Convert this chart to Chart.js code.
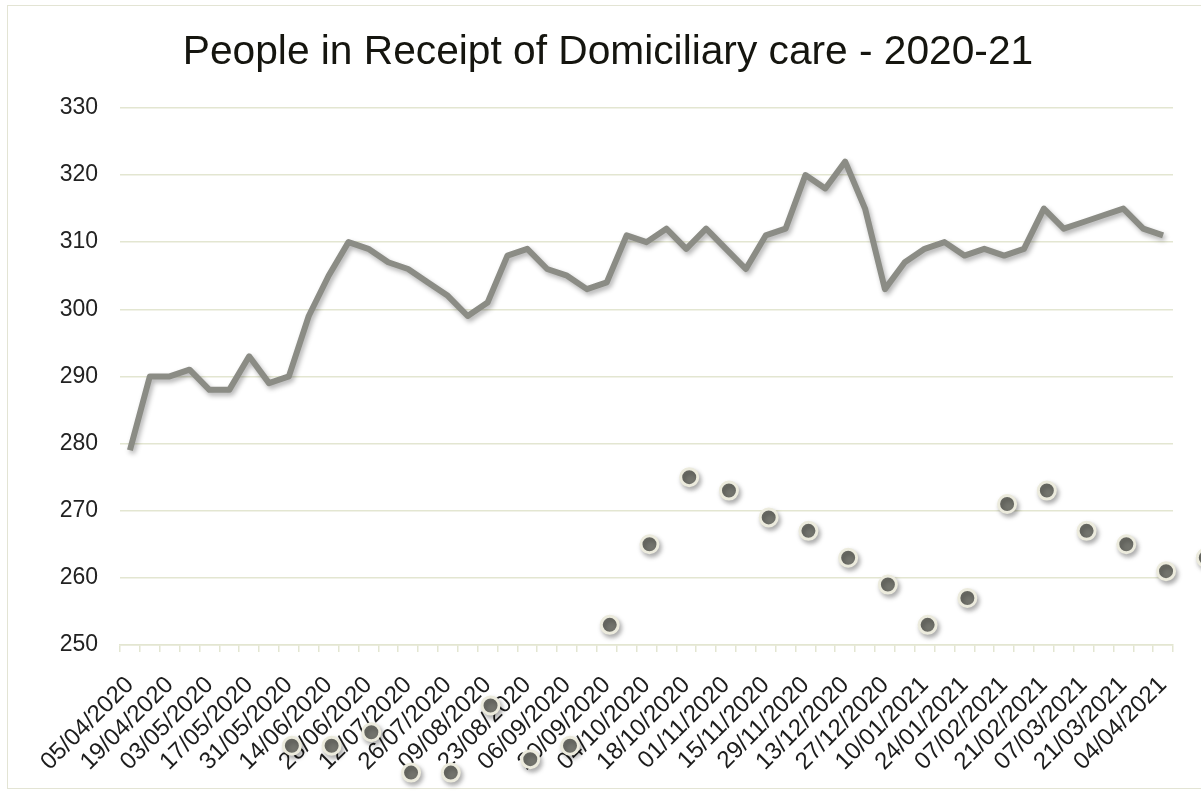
<!DOCTYPE html>
<html>
<head>
<meta charset="utf-8">
<script src="https://cdn.jsdelivr.net/npm/chart.js@4"></script>
<style>
    body { margin: 0; background: #fff; overflow: hidden; }
    #wrap { position: relative; width: 1201px; height: 792px; }
    #frame { position: absolute; left: 7px; top: 5px; width: 1210px; height: 784px; border: 1.5px solid #e3e4d4; box-sizing: border-box; }
    canvas { position: absolute; left: 0; top: 0; }
</style>
</head>
<body>
<div id="wrap">
    <div id="frame"></div>
    <canvas id="careChart" width="1201" height="792"></canvas>
</div>
<script>
// Weekly dates (every week, every other one labelled)
const weeks = [
    '05/04/2020', '12/04/2020', '19/04/2020', '26/04/2020', '03/05/2020', '10/05/2020', '17/05/2020', '24/05/2020',
    '31/05/2020', '07/06/2020', '14/06/2020', '21/06/2020', '28/06/2020', '05/07/2020', '12/07/2020', '19/07/2020',
    '26/07/2020', '02/08/2020', '09/08/2020', '16/08/2020', '23/08/2020', '30/08/2020', '06/09/2020', '13/09/2020',
    '20/09/2020', '27/09/2020', '04/10/2020', '11/10/2020', '18/10/2020', '25/10/2020', '01/11/2020', '08/11/2020',
    '15/11/2020', '22/11/2020', '29/11/2020', '06/12/2020', '13/12/2020', '20/12/2020', '27/12/2020', '03/01/2021',
    '10/01/2021', '17/01/2021', '24/01/2021', '31/01/2021', '07/02/2021', '14/02/2021', '21/02/2021', '28/02/2021',
    '07/03/2021', '14/03/2021', '21/03/2021', '28/03/2021', '04/04/2021'
];

const peopleInCare = [
    279, 290, 290, 291, 288, 288, 293, 289, 290, 299,
    305, 310, 309, 307, 306, 304, 302, 299, 301, 308,
    309, 306, 305, 303, 304, 311, 310, 312, 309, 312,
    309, 306, 311, 312, 320, 318, 322, 315, 303, 307,
    309, 310, 308, 309, 308, 309, 315, 312, 313, 314,
    315, 312, 311
];

// Marker series: week index and value
const markerWeek = [8, 10, 12, 14, 16, 18, 20, 22, 24, 26, 28, 30, 32, 34, 36, 38, 40, 42, 44, 46, 48, 50, 52, 54];
const markerValue = [235, 235, 237, 231, 231, 241, 233, 235, 253, 265, 275, 273, 269, 267, 263, 259, 253, 257, 271, 273, 267, 265, 261, 263];

const yTicks = [250, 260, 270, 280, 290, 300, 310, 320, 330];

const gridColour = '#e3e6d1';
const labelFont = "'Liberation Sans', Arial, sans-serif";

// soft drop shadow; the markers are drawn without the chart-area check
// so the ones that fall under the axis still show (as in the original)
const shadowPlugin = {
    id: 'shadow',
    beforeDatasetDraw(chart, args) {
        const ctx = chart.ctx;
        ctx.save();
        ctx.shadowColor = 'rgba(0, 0, 0, 0.3)';
        ctx.shadowBlur = 5;
        ctx.shadowOffsetX = 2;
        ctx.shadowOffsetY = 3;
        if (args.index === 1) {
            args.meta.data.forEach(pt => pt.draw(ctx));
            ctx.restore();
            return false;
        }
    },
    afterDatasetDraw(chart) {
        chart.ctx.restore();
    }
};

function fixMarkerRange(scale) {
    scale.min = -0.65;
    scale.max = 52.35;
}

const ctx = document.getElementById('careChart').getContext('2d');

new Chart(ctx, {
    type: 'line',
    data: {
        labels: weeks,
        datasets: [
            {
                label: 'People in receipt',
                data: peopleInCare,
                borderColor: '#8b8c85',
                borderWidth: 6,
                borderJoinStyle: 'round',
                pointRadius: 0,
                tension: 0,
                fill: false,
                xAxisID: 'x',
                yAxisID: 'y'
            },
            {
                type: 'scatter',
                label: 'Markers',
                data: markerWeek.map((w, i) => ({ x: w, y: markerValue[i] })),
                pointRadius: 8.5,
                pointBorderWidth: 3,
                pointBackgroundColor: '#73746d',
                pointBorderColor: '#ecebdd',
                clip: false,
                xAxisID: 'x2',
                yAxisID: 'y'
            }
        ]
    },
    options: {
        responsive: false,
        animation: false,
        layout: {
            padding: { left: 43, right: 28, top: 18, bottom: 0 }
        },
        plugins: {
            legend: { display: false },
            tooltip: { enabled: false },
            title: {
                display: true,
                text: 'People in Receipt of Domiciliary care - 2020-21',
                color: '#15150f',
                font: { family: labelFont, size: 40.7, weight: 'normal' },
                padding: { top: 10, bottom: 31 }
            }
        },
        scales: {
            x: {
                type: 'category',
                offset: true,
                z: 1,
                grid: {
                    offset: true,
                    drawOnChartArea: false,
                    drawTicks: true,
                    tickLength: 7,
                    color: gridColour,
                    lineWidth: 1.5
                },
                border: { display: true, color: gridColour, width: 1.5 },
                ticks: {
                    autoSkip: false,
                    maxRotation: 45,
                    minRotation: 45,
                    padding: 19,
                    color: '#1c1c1c',
                    font: { family: labelFont, size: 24 },
                    callback: function(value, index) {
                        return index % 2 === 0 ? this.getLabelForValue(value) : '';
                    }
                },
                afterFit: function(scale) {
                    scale.height = 147;
                    scale.paddingLeft = 0;
                    scale.paddingRight = 0;
                }
            },
            x2: {
                type: 'linear',
                display: false,
                bounds: 'data',
                afterDataLimits: fixMarkerRange,
                afterBuildTicks: fixMarkerRange
            },
            y: {
                min: 250,
                max: 330,
                afterBuildTicks: function(scale) {
                    scale.ticks = yTicks.map(v => ({ value: v }));
                },
                grid: {
                    color: gridColour,
                    lineWidth: 1.5,
                    drawTicks: false
                },
                border: { display: false },
                ticks: {
                    padding: 22,
                    color: '#222222',
                    font: { family: labelFont, size: 23 }
                },
                afterFit: function(scale) {
                    scale.width = 77;
                }
            }
        }
    },
    plugins: [shadowPlugin]
});
</script>
</body>
</html>
